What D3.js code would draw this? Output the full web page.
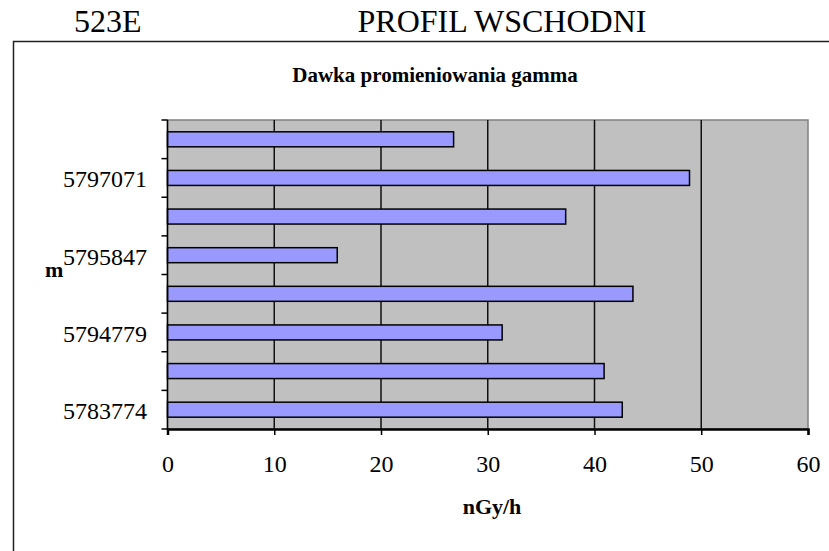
<!DOCTYPE html>
<html>
<head>
<meta charset="utf-8">
<script src="https://cdn.jsdelivr.net/npm/d3@7"></script>
<style>
  body { margin: 0; background: #fff; }
  svg { display: block; }
  text { font-family: "Liberation Serif", "Times New Roman", serif; fill: #000; }
</style>
</head>
<body>
<svg id="chart" width="829" height="551"></svg>
<script>
// Data (top to bottom as drawn)
const categoryLabels = ["", "5797071", "", "5795847", "", "5794779", "", "5783774"];
const values = [26.8, 48.9, 37.3, 15.9, 43.6, 31.35, 40.9, 42.6];
const xTicks = [0, 10, 20, 30, 40, 50, 60];

const svg = d3.select("#chart");
const W = 829, H = 551;

// frame
svg.append("path")
  .attr("d", `M13.5,${H + 5} V41.5 H${W + 5}`)
  .attr("fill", "none").attr("stroke", "#222").attr("stroke-width", 1.5);

// headers
svg.append("text").attr("x", 74).attr("y", 32).attr("font-size", 32).text("523E");
svg.append("text").attr("x", 502).attr("y", 32).attr("font-size", 32)
  .attr("text-anchor", "middle").text("PROFIL WSCHODNI");

const plot = { left: 167.5, right: 808, top: 120, bottom: 429 };

const x = d3.scaleLinear().domain([0, 60]).range([plot.left, plot.right]);
const yOuter = d3.scaleBand().domain(d3.range(categoryLabels.length))
  .range([plot.top, plot.bottom]);

// chart title
svg.append("text").attr("x", 435).attr("y", 82).attr("font-size", 21)
  .attr("font-weight", "bold").attr("text-anchor", "middle")
  .text("Dawka promieniowania gamma");

// plot background
svg.append("rect")
  .attr("x", plot.left).attr("y", plot.top)
  .attr("width", plot.right - plot.left).attr("height", plot.bottom - plot.top)
  .attr("fill", "#C0C0C0").attr("stroke", "#808080").attr("stroke-width", 1.5);

// gridlines
svg.append("g").selectAll("line")
  .data(xTicks.filter(d => d > 0 && d < 60)).join("line")
  .attr("x1", d => x(d)).attr("x2", d => x(d))
  .attr("y1", plot.top).attr("y2", plot.bottom)
  .attr("stroke", "#111").attr("stroke-width", 1.5);

// bars
svg.append("g").selectAll("rect")
  .data(values).join("rect")
  .attr("x", x(0))
  .attr("y", (d, i) => yOuter(i) + (yOuter.bandwidth() - 15) / 2)
  .attr("width", d => x(d) - x(0))
  .attr("height", 15)
  .attr("fill", "#9999FF").attr("stroke", "#000").attr("stroke-width", 1.5);

// y axis line + ticks at band boundaries
const yTickPos = d3.range(categoryLabels.length + 1).map(i => plot.top + i * yOuter.step());
svg.append("line").attr("x1", plot.left).attr("x2", plot.left)
  .attr("y1", plot.top).attr("y2", plot.bottom)
  .attr("stroke", "#000").attr("stroke-width", 1.5);
svg.append("g").selectAll("line").data(yTickPos).join("line")
  .attr("x1", plot.left - 6).attr("x2", plot.left)
  .attr("y1", d => d).attr("y2", d => d)
  .attr("stroke", "#000").attr("stroke-width", 1.5);

// y labels
svg.append("g").selectAll("text").data(categoryLabels).join("text")
  .attr("x", 147).attr("y", (d, i) => yOuter(i) + yOuter.bandwidth() / 2 + 9.5)
  .attr("text-anchor", "end").attr("font-size", 24)
  .text(d => d);

// x axis
const xAxis = d3.axisBottom(x).tickValues(xTicks).tickSize(6).tickPadding(20).tickFormat(d3.format("d"));
const gx = svg.append("g").attr("transform", `translate(0,${plot.bottom})`).call(xAxis);
gx.select(".domain").attr("stroke", "#000").attr("stroke-width", 2.5);
gx.selectAll(".tick line").attr("stroke", "#000").attr("stroke-width", 1.5);
gx.selectAll(".tick text").attr("font-size", 24)
  .attr("font-family", "Liberation Serif, Times New Roman, serif").attr("fill", "#000");

// axis titles
svg.append("text").attr("x", 492).attr("y", 514).attr("font-size", 22)
  .attr("font-weight", "bold").attr("text-anchor", "middle").text("nGy/h");
svg.append("text").attr("x", 45).attr("y", 277).attr("font-size", 22)
  .attr("font-weight", "bold").text("m");
</script>
</body>
</html>
